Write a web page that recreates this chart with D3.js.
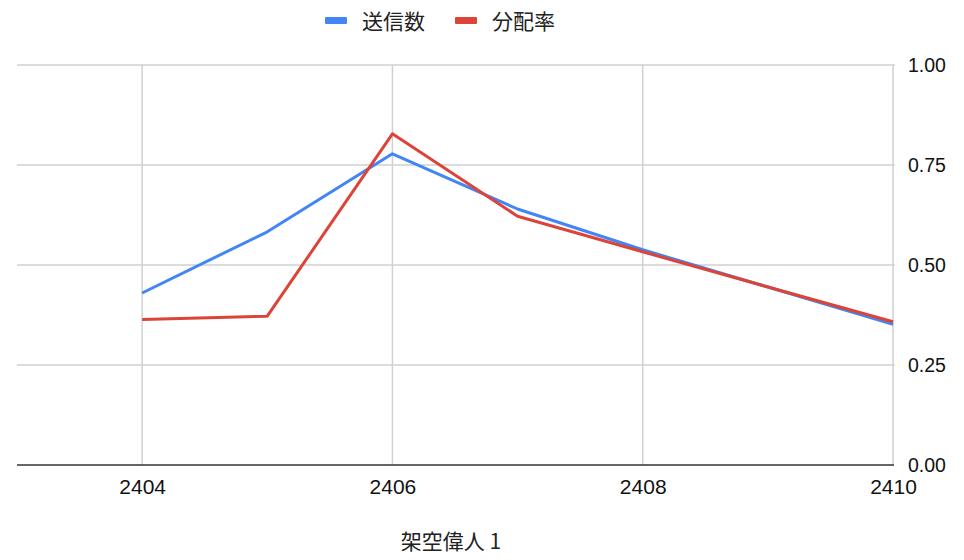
<!DOCTYPE html>
<html lang="ja">
<head>
<meta charset="UTF-8" />
<title>架空偉人 1</title>
<script src="https://d3js.org/d3.v7.min.js"></script>
<style>
    body { margin: 0; background: #fff; }
    svg { display: block; font-family: "Liberation Sans", Arial, "Noto Sans CJK JP", sans-serif; }
</style>
</head>
<body>
<script>
    // data
    var years = [2404, 2405, 2406, 2407, 2408, 2409, 2410];
    var sent = [0.430, 0.583, 0.778, 0.640, 0.538, 0.445, 0.352];
    var share = [0.364, 0.372, 0.828, 0.622, 0.533, 0.445, 0.358];
    var seriesNames = ["送信数", "分配率"];
    var seriesColors = ["#4285f4", "#db4437"];
    var xTicks = [2404, 2406, 2408, 2410];
    var yTicks = [0, 0.25, 0.5, 0.75, 1];
    var xTitle = "架空偉人 1";

    var w = 964, h = 560;
    var plotLeft = 17, plotRight = 893, plotTop = 65, plotBottom = 465;

    var svg = d3.select("body").append("svg")
        .attr("width", w)
        .attr("height", h);

    var xScale = d3.scaleLinear().domain([2403, 2410]).range([plotLeft, plotRight]);
    var yScale = d3.scaleLinear().domain([0, 1]).range([plotBottom, plotTop]);

    // horizontal gridlines
    svg.selectAll(".hgrid")
        .data(yTicks.filter(function (d) { return d > 0; }))
        .enter().append("line")
        .attr("x1", plotLeft).attr("x2", plotRight + 2)
        .attr("y1", function (d) { return yScale(d); })
        .attr("y2", function (d) { return yScale(d); })
        .attr("stroke", "#d0d0d0").attr("stroke-width", 1.5);

    // vertical gridlines
    svg.selectAll(".vgrid")
        .data(xTicks)
        .enter().append("line")
        .attr("x1", function (d) { return xScale(d); })
        .attr("x2", function (d) { return xScale(d); })
        .attr("y1", plotTop).attr("y2", plotBottom)
        .attr("stroke", "#d0d0d0").attr("stroke-width", 1.5);

    // baseline
    svg.append("line")
        .attr("x1", plotLeft).attr("x2", plotRight + 1)
        .attr("y1", yScale(0)).attr("y2", yScale(0))
        .attr("stroke", "#333").attr("stroke-width", 1.5);

    // x axis labels
    var xAxis = d3.axisBottom(xScale).tickValues(xTicks).tickFormat(d3.format("d")).tickSize(0).tickPadding(14);
    var gx = svg.append("g").attr("transform", "translate(0," + plotBottom + ")").call(xAxis);
    gx.select(".domain").remove();
    gx.selectAll("text").attr("font-size", 21).attr("fill", "#111")
        .style("font-family", "'Liberation Sans', Arial, sans-serif");

    // y axis labels on the right
    var yAxis = d3.axisRight(yScale).tickValues(yTicks).tickFormat(d3.format(".2f")).tickSize(0).tickPadding(15);
    var gy = svg.append("g").attr("transform", "translate(" + plotRight + ",0)").call(yAxis);
    gy.select(".domain").remove();
    gy.selectAll("text").attr("font-size", 19.5).attr("fill", "#111")
        .style("font-family", "'Liberation Sans', Arial, sans-serif");

    // lines
    var line = d3.line()
        .x(function (d, i) { return xScale(years[i]); })
        .y(function (d) { return yScale(d); });

    [sent, share].forEach(function (vals, k) {
        svg.append("path")
            .datum(vals)
            .attr("fill", "none")
            .attr("stroke", seriesColors[k])
            .attr("stroke-width", 3)
            .attr("stroke-linejoin", "round")
            .attr("d", line);
    });

    // legend
    var legendX = [325, 455];
    seriesNames.forEach(function (name, k) {
        var g = svg.append("g").attr("transform", "translate(" + legendX[k] + ",17)");
        g.append("rect").attr("x", 0).attr("y", 0).attr("width", 22).attr("height", 7)
            .attr("rx", 1).attr("fill", seriesColors[k]);
        g.append("text").attr("x", 37).attr("y", 4).attr("dy", "0.36em")
            .attr("font-size", 21).attr("fill", "#222")
            .style("font-family", "'Noto Sans CJK JP', sans-serif")
            .text(name);
    });

    // x title
    svg.append("text")
        .attr("x", 451).attr("y", 541).attr("dy", "0.36em")
        .attr("text-anchor", "middle")
        .attr("font-size", 21).attr("fill", "#222")
        .style("font-family", "'Noto Sans CJK JP', sans-serif")
        .text(xTitle);
</script>
</body>
</html>
